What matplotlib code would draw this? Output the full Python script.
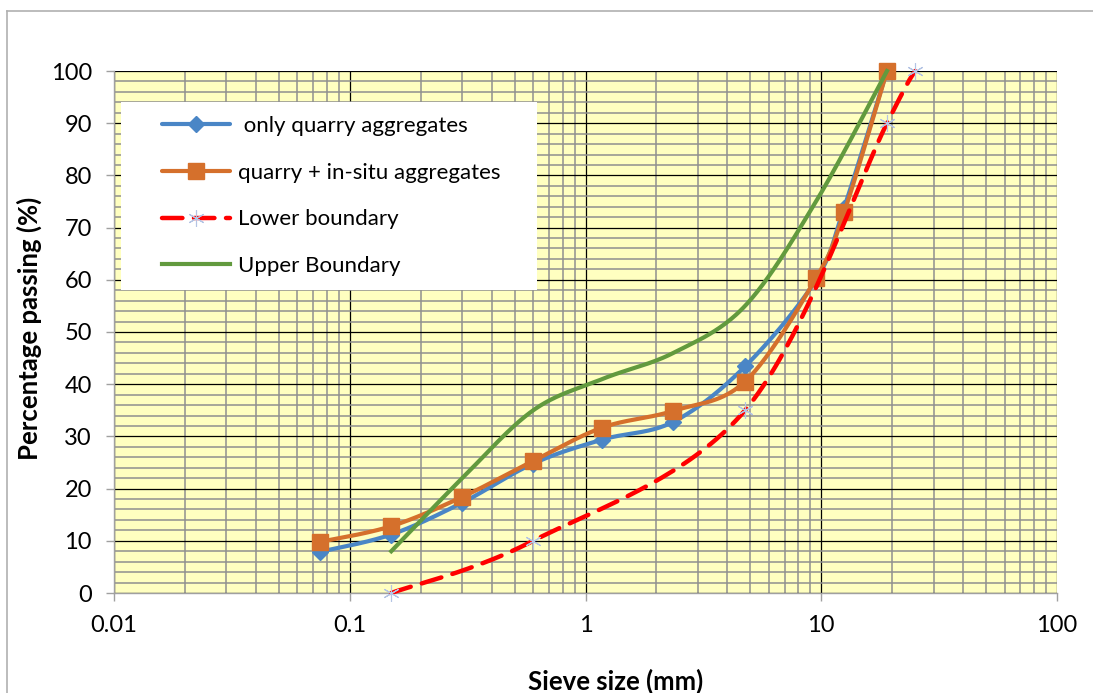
import numpy as np
import matplotlib
matplotlib.use("Agg")
import matplotlib.pyplot as plt
from matplotlib.lines import Line2D
from matplotlib.patches import Rectangle

plt.rcParams['font.family'] = ['Lato', 'DejaVu Sans']

# Sieve sizes (mm) and percentage passing
sieve = [0.075, 0.15, 0.3, 0.6, 1.18, 2.36, 4.75, 9.5, 12.5, 19]
quarry_only = [7.9, 11.2, 17.3, 24.8, 29.4, 32.8, 43.4, 60.0, 73.8, 100]
quarry_insitu = [9.8, 12.8, 18.4, 25.3, 31.7, 34.9, 40.5, 60.3, 72.9, 100]

lower_sieve = [0.15, 0.6, 4.75, 19, 25]
lower_pass = [0, 10, 35, 90, 100]

upper_sieve = [0.15, 0.3, 0.6, 1.18, 2.36, 4.75, 9.5, 19]
upper_pass = [8, 22, 35, 41, 46, 55, 75, 100]

x_ticks = [0.01, 0.1, 1, 10, 100]
x_tick_labels = ["0.01", "0.1", "1", "10", "100"]
y_ticks = list(range(0, 101, 10))

legend_labels = [" only quarry aggregates", "quarry + in-situ aggregates",
                 "Lower boundary", "Upper Boundary"]


def smooth(xs, ys, n=40):
    """Bezier smoothing (spreadsheet style) in log-x space.
    Returns curve coordinates and the indices of the original points."""
    lx = np.log10(np.asarray(xs, float))
    y = np.asarray(ys, float)
    P = np.column_stack([lx, y])
    m = len(P)
    pts = []
    idx = []
    count = 0
    for i in range(m - 1):
        p0 = P[i - 1] if i > 0 else P[i]
        p1 = P[i]
        p2 = P[i + 1]
        p3 = P[i + 2] if i + 2 < m else P[i + 1]
        b1 = p1 + (p2 - p0) / 6.0
        b2 = p2 - (p3 - p1) / 6.0
        t = np.linspace(0, 1, n, endpoint=False)[:, None]
        seg = ((1 - t) ** 3) * p1 + 3 * ((1 - t) ** 2) * t * b1 \
            + 3 * (1 - t) * t ** 2 * b2 + t ** 3 * p2
        idx.append(count)
        count += len(seg)
        pts.append(seg)
    idx.append(count)
    pts.append(P[-1][None, :])
    C = np.vstack(pts)
    return 10 ** C[:, 0], C[:, 1], idx


W, H = 1093, 693
fig = plt.figure(figsize=(W / 100, H / 100), dpi=100)
fig.patch.set_facecolor('white')

ax_l, ax_r, ax_t, ax_b = 114, 1057, 71, 593
ax = fig.add_axes([ax_l / W, 1 - ax_b / H, (ax_r - ax_l) / W, (ax_b - ax_t) / H])
ax.set_facecolor('#FFFFC0')
ax.set_xscale('log')
ax.set_xlim(0.01, 100)
ax.set_ylim(0, 100)

# grid: black major, grey minor
ax.set_yticks(y_ticks)
ax.set_yticks(np.arange(0, 101, 2), minor=True)
ax.set_xticks(x_ticks)
ax.set_xticklabels(x_tick_labels)
ax.xaxis.set_minor_locator(matplotlib.ticker.LogLocator(base=10, subs=np.arange(2, 10)))
ax.xaxis.set_minor_formatter(matplotlib.ticker.NullFormatter())
ax.grid(which='minor', color='#8f8f8f', linewidth=1.1, zorder=0)
ax.grid(which='major', color='black', linewidth=0.9, zorder=0.5)
ax.set_axisbelow(True)

ax.tick_params(axis='both', which='major', length=6, width=1, color='#a0a0a0',
               labelsize=17, pad=10)
ax.tick_params(axis='both', which='minor', length=0)
for s in ax.spines.values():
    s.set_color('#a0a0a0')
    s.set_linewidth(1)
ax.spines['top'].set_visible(False)
ax.spines['right'].set_visible(False)

# series
bx, by, bidx = smooth(sieve, quarry_only)
ax.plot(bx, by, color='#4A86C6', lw=3, marker='D', markersize=8,
        markevery=bidx, markeredgecolor='#4A86C6', label=legend_labels[0],
        zorder=3, clip_on=False, solid_capstyle='round')

ox, oy, oidx = smooth(sieve, quarry_insitu)
ax.plot(ox, oy, color='#D5702C', lw=3, marker='s', markersize=11,
        markevery=oidx, markeredgecolor='#D5702C', label=legend_labels[1],
        zorder=4, clip_on=False, solid_capstyle='round')

lx, ly, lidx = smooth(lower_sieve, lower_pass)
ax.plot(lx, ly, color='#FF0000', lw=3.2, linestyle=(0, (4.6, 2.6)),
        marker=(6, 2, 0), markersize=12, markevery=lidx,
        markeredgecolor='#B4C4E4', markeredgewidth=0.8,
        label=legend_labels[2], zorder=5, clip_on=False,
        dash_capstyle='round')

gx, gy, _ = smooth(upper_sieve, upper_pass)
ax.plot(gx, gy, color='#629A3E', lw=3, label=legend_labels[3], zorder=6,
        clip_on=False)

# legend panel (white box) with the entries inset inside it
box_l, box_t, box_r, box_b = 121, 102, 537, 290
fig.add_artist(Rectangle((box_l / W, 1 - box_b / H), (box_r - box_l) / W,
                         (box_b - box_t) / H, facecolor='white',
                         edgecolor='none', transform=fig.transFigure,
                         zorder=9))
leg = fig.legend(*ax.get_legend_handles_labels(), loc='upper left',
                 bbox_to_anchor=(162 / W, 1 - 116 / H),
                 bbox_transform=fig.transFigure,
                 borderaxespad=0, frameon=False,
                 fontsize=16, handlelength=3.06, handletextpad=0.36,
                 labelspacing=1.2, borderpad=0)
leg.set_zorder(10)

fig.text(29 / W, 1 - 328 / H, "Percentage passing (%)", rotation=90,
         ha='center', va='center', fontsize=18.5, fontweight='bold')
fig.text(616 / W, 1 - 681 / H, "Sieve size (mm)", ha='center', va='center',
         fontsize=18.5, fontweight='bold')

# chart area border
fig.add_artist(Line2D([7 / W, 7 / W], [0, 1 - 11 / H], color='#b0b0b0',
                      lw=1.2, transform=fig.transFigure))
fig.add_artist(Line2D([7 / W, 1], [1 - 11 / H, 1 - 11 / H], color='#b0b0b0',
                      lw=1.2, transform=fig.transFigure))

fig.savefig('out.png', dpi=100)
